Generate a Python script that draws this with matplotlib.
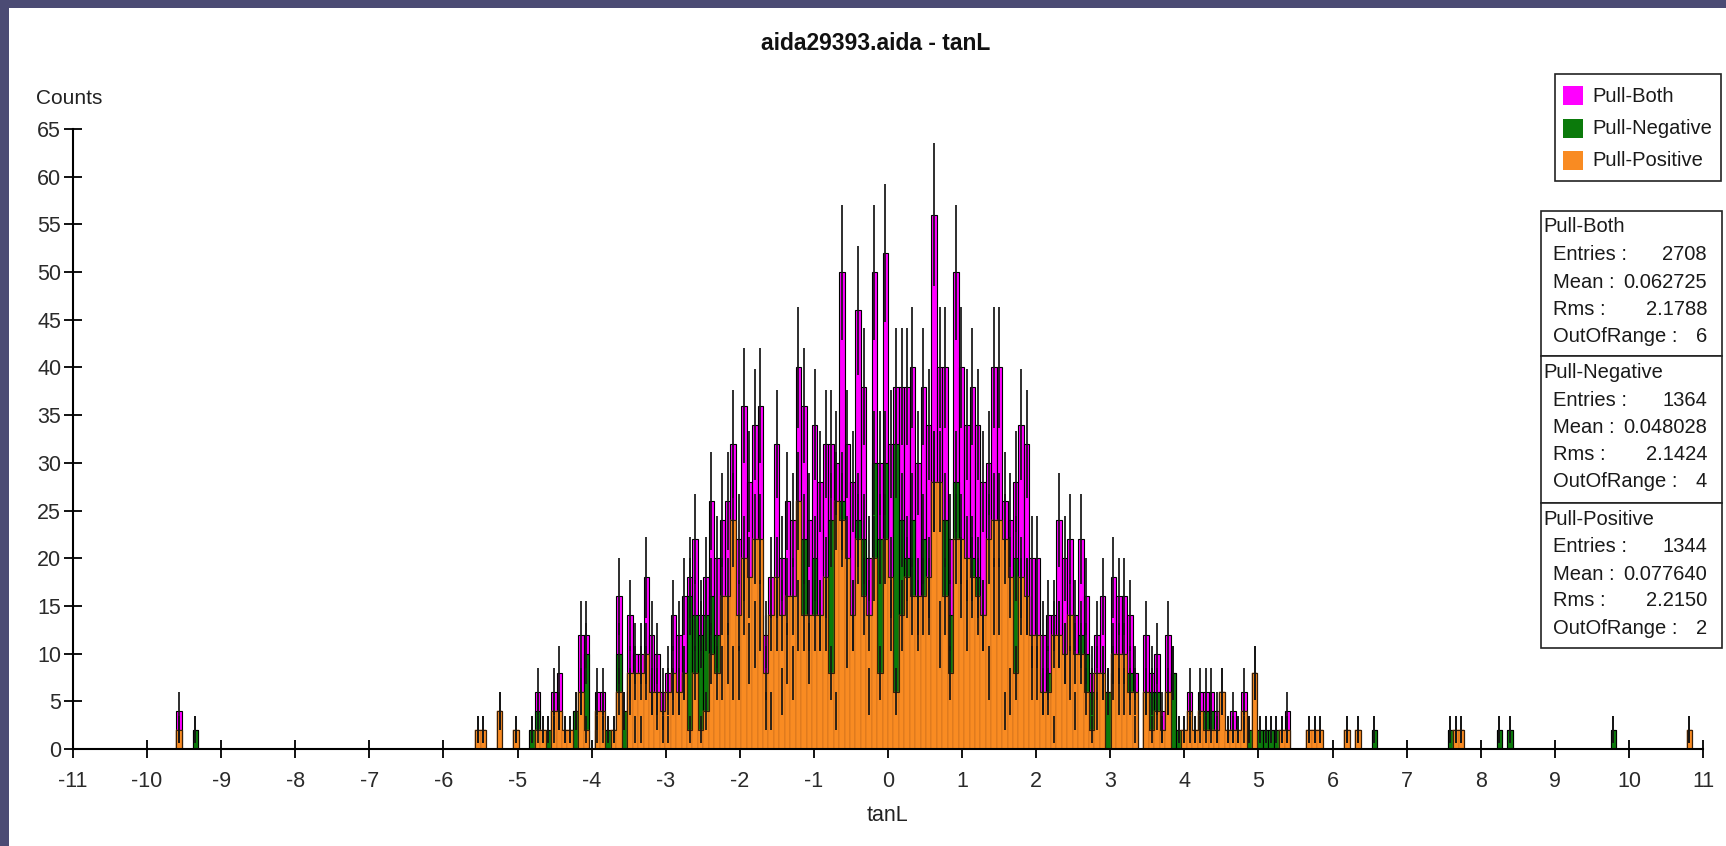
import numpy as np
import matplotlib
matplotlib.use("Agg")
import matplotlib.pyplot as plt
from matplotlib.patches import Rectangle

plt.rcParams['font.family'] = ['Liberation Sans', 'DejaVu Sans']

# ---- histogram definition ----
x_lo, x_hi, n_bins = -11.0, 11.0, 300
core_first_bin = 74

# per-bin contents of the central region (bins 74 .. 223)
neg_core = [
    0, 0, 0, 0, 0, 0, 0, 0, 0, 0, 2, 4, 0, 2, 2, 4, 0, 0, 4, 6,
    10, 0, 2, 2, 2, 0, 10, 4, 6, 2, 2, 8, 6, 4, 2, 2, 6, 6, 8, 16,
    14, 12, 14, 16, 12, 8, 10, 8, 8, 16, 10, 12, 14, 4, 4, 14, 6, 10, 8, 14,
    22, 10, 20, 14, 14, 24, 4, 26, 12, 14, 24, 22, 6, 30, 22, 30, 14, 32, 24, 20,
    24, 14, 22, 16, 28, 12, 24, 14, 28, 18, 14, 20, 18, 14, 8, 16, 16, 4, 6, 20,
    16, 16, 8, 8, 6, 8, 2, 12, 10, 8, 4, 12, 10, 6, 4, 8, 6, 8, 6, 6,
    8, 2, 0, 6, 6, 6, 2, 6, 8, 2, 0, 2, 0, 2, 4, 4, 2, 0, 0, 2,
    0, 2, 2, 0, 2, 2, 2, 2, 0, 2,
]
pos_core = [
    2, 2, 0, 0, 4, 0, 0, 2, 0, 0, 0, 2, 2, 0, 4, 4, 2, 2, 0, 6,
    2, 0, 4, 4, 0, 2, 6, 0, 8, 8, 8, 10, 6, 6, 4, 6, 8, 6, 8, 2,
    8, 2, 4, 10, 8, 16, 16, 24, 14, 20, 18, 22, 22, 8, 14, 18, 14, 16, 16, 26,
    14, 14, 14, 14, 18, 8, 26, 24, 20, 14, 22, 16, 14, 20, 8, 22, 18, 6, 14, 18,
    16, 16, 16, 18, 28, 28, 16, 8, 22, 22, 20, 18, 16, 14, 22, 24, 24, 22, 18, 8,
    18, 16, 12, 12, 6, 6, 12, 12, 10, 14, 10, 10, 6, 2, 8, 8, 0, 10, 10, 10,
    6, 6, 0, 6, 2, 4, 2, 6, 0, 0, 2, 4, 2, 4, 2, 2, 2, 6, 2, 2,
    2, 4, 0, 8, 0, 0, 0, 0, 2, 2,
]

# isolated entries in the tails
neg_tail_x = [-9.57, -9.37, 6.56, 7.59, 8.25, 8.40, 9.79]
neg_tail_n = [2, 2, 2, 2, 2, 2, 2]
pos_tail_x = [-9.57, 5.68, 5.75, 5.82, 6.19, 6.34, 7.66, 7.74, 10.82]
pos_tail_n = [2, 2, 2, 2, 2, 2, 2, 2, 2]

x_ticks = list(range(-11, 12))
y_ticks = list(range(0, 70, 5))

series_names = ["Pull-Both", "Pull-Negative", "Pull-Positive"]
series_colors = ["#FF00FF", "#0B7A0B", "#F98B22"]
stats_entries = ["2708", "1364", "1344"]
stats_mean = ["0.062725", "0.048028", "0.077640"]
stats_rms = ["2.1788", "2.1424", "2.2150"]
stats_oor = ["6", "4", "2"]

# ---- build bin contents ----
edges = np.linspace(x_lo, x_hi, n_bins + 1)
centers = 0.5 * (edges[:-1] + edges[1:])
width = edges[1] - edges[0]

neg = np.zeros(n_bins)
pos = np.zeros(n_bins)
neg[core_first_bin:core_first_bin + len(neg_core)] = neg_core
pos[core_first_bin:core_first_bin + len(pos_core)] = pos_core
neg += np.histogram(neg_tail_x, bins=edges, weights=neg_tail_n)[0]
pos += np.histogram(pos_tail_x, bins=edges, weights=pos_tail_n)[0]
both = neg + pos  # combined sample

W, H = 1726, 846
fig = plt.figure(figsize=(W / 100, H / 100), dpi=100, facecolor="white")

def fx(px):
    return px / W

def fy(py):
    return 1 - py / H

# slide frame
frame_col = "#4b4b74"
fig.add_artist(Rectangle((0, fy(8)), 1, 8 / H, transform=fig.transFigure,
                         facecolor=frame_col, edgecolor="none", zorder=0))
fig.add_artist(Rectangle((0, 0), 9 / W, 1, transform=fig.transFigure,
                         facecolor=frame_col, edgecolor="none", zorder=0))

ax = fig.add_axes([fx(73), fy(749), fx(1703) - fx(73), fy(129) - fy(749)])
ax.set_facecolor("none")

edge_cols = ["#000000", "#000000", "#c0681a"]
edge_lws = [0.8, 0.8, 0.35]
for vals, col, ec, lw in zip([both, neg, pos], series_colors, edge_cols, edge_lws):
    m = vals > 0
    ax.bar(centers[m], vals[m], width=width, color=col, edgecolor=ec,
           linewidth=lw, zorder=2)

# outline along the top of the orange bars
ax.stairs(pos, edges, color="#3a2008", linewidth=0.8, zorder=2.5)

for vals in [both, neg, pos]:
    m = vals > 0
    err = np.sqrt(vals[m])
    ax.vlines(centers[m], vals[m] - err, vals[m] + err, color="#151515",
              linewidth=1.25, zorder=3)

ax.set_xlim(x_lo, x_hi)
ax.set_ylim(0, 65)
ax.set_xticks(x_ticks)
ax.set_yticks(y_ticks)
ax.set_xticklabels([str(t) for t in x_ticks])
ax.set_yticklabels([str(t) for t in y_ticks])
for s in ["top", "right"]:
    ax.spines[s].set_visible(False)
for s in ["left", "bottom"]:
    ax.spines[s].set_linewidth(1.5)
    ax.spines[s].set_zorder(4)
ax.tick_params(axis="both", direction="inout", length=13, width=1.3,
               labelsize=15.5, labelcolor="#2a2a2a")
ax.tick_params(axis="x", pad=9.5)
ax.tick_params(axis="y", pad=2)

# titles and axis labels
fig.text(fx(876), fy(43), "aida29393.aida - tanL", ha="center", va="center",
         fontsize=16.5, fontweight="bold", color="#111111")
fig.text(fx(887), fy(815), "tanL", ha="center", va="center",
         fontsize=15.5, color="#222222")
fig.text(fx(36), fy(98), "Counts", ha="left", va="center",
         fontsize=15, color="#222222")

# legend box
fig.add_artist(Rectangle((fx(1555), fy(181)), fx(1721) - fx(1555), (181 - 74) / H,
                         transform=fig.transFigure, facecolor="white",
                         edgecolor="#222222", linewidth=1.2, zorder=5))
for i, (name, col) in enumerate(zip(series_names, series_colors)):
    yc = 96 + i * 32.5
    fig.add_artist(Rectangle((fx(1563), fy(yc + 9.5)), 20 / W, 19 / H,
                             transform=fig.transFigure, facecolor=col,
                             edgecolor="none", zorder=6))
    fig.text(fx(1592), fy(yc), name, ha="left", va="center",
             fontsize=14.5, color="#1a1a1a", zorder=6)

# statistics boxes
sec_top = [211, 356, 503]
sec_bot = [356, 503, 648]
for i, name in enumerate(series_names):
    t, b = sec_top[i], sec_bot[i]
    fig.add_artist(Rectangle((fx(1541), fy(b)), fx(1722) - fx(1541), (b - t) / H,
                             transform=fig.transFigure, facecolor="white",
                             edgecolor="#222222", linewidth=1.2, zorder=5))
    fig.text(fx(1543), fy(t + 16), name, ha="left", va="center",
             fontsize=14.5, color="#1a1a1a", zorder=6)
    rows = [("Entries :", stats_entries[i]), ("Mean :", stats_mean[i]),
            ("Rms :", stats_rms[i]), ("OutOfRange :", stats_oor[i])]
    for j, (lab, val) in enumerate(rows):
        yy = t + 44 + j * 27
        fig.text(fx(1553), fy(yy), lab, ha="left", va="center",
                 fontsize=14.5, color="#1a1a1a", zorder=6)
        fig.text(fx(1707), fy(yy), val, ha="right", va="center",
                 fontsize=14.5, color="#1a1a1a", zorder=6)

fig.savefig("out.png", dpi=100, facecolor=fig.get_facecolor())
